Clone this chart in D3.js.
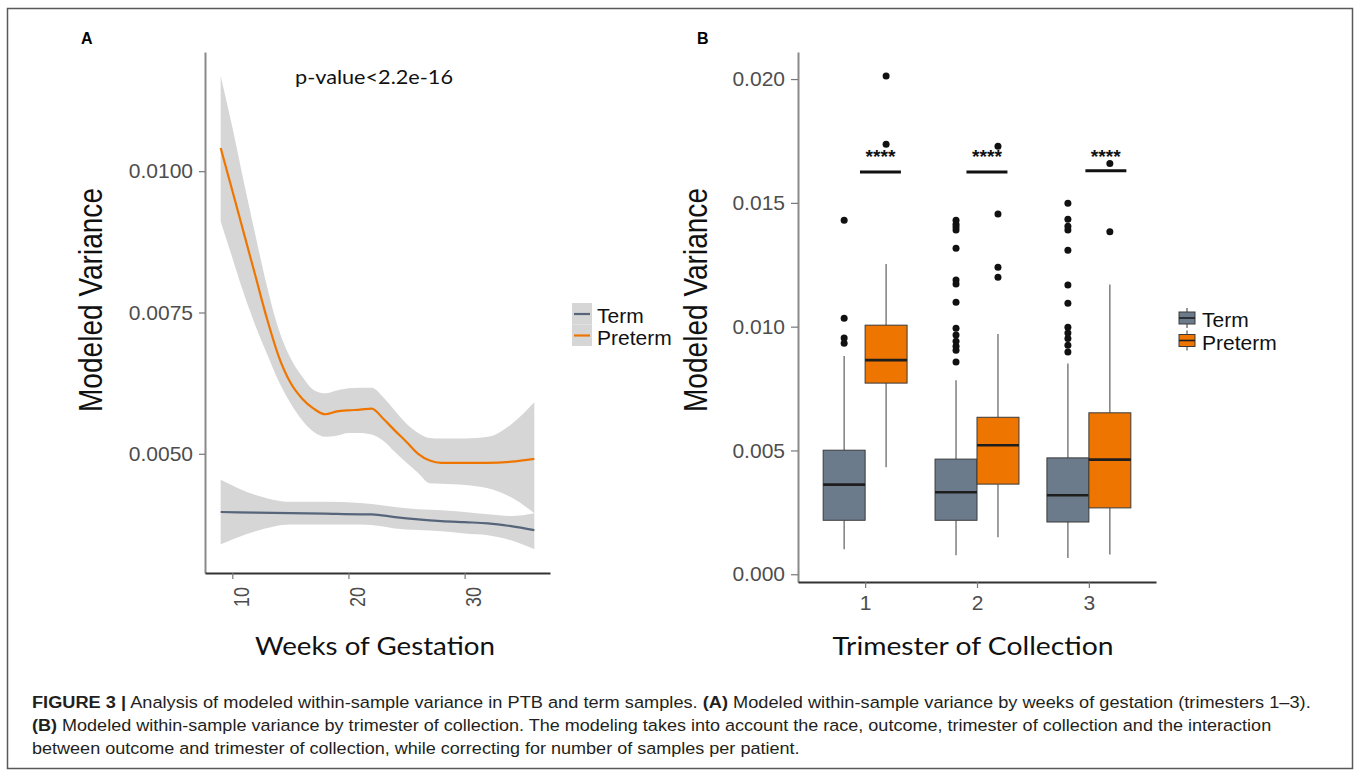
<!DOCTYPE html>
<html>
<head>
<meta charset="utf-8">
<script src="https://cdn.jsdelivr.net/npm/d3@7"></script>
<style>
  body { margin: 0; background: #fff; }
  svg { display: block; font-family: "Liberation Sans", Arial, sans-serif; }
</style>
</head>
<body>
<svg id="fig" width="1357" height="775"></svg>
<script>
'use strict';

// ---- Panel A: loess fit of modeled variance by week of gestation ----
var pretermWeeks = [9, 10, 11, 12, 13, 14, 15, 16, 17, 18, 19, 20, 21, 22, 23, 24, 25, 26, 27, 28, 30, 32, 34, 36];
var pretermFit   = [0.01041, 0.00966, 0.00890, 0.00814, 0.00738, 0.00672, 0.00626, 0.00598, 0.00580, 0.00570, 0.00575, 0.00577,
                    0.00578, 0.00580, 0.00562, 0.00541, 0.00521, 0.00500, 0.00488, 0.00484, 0.00484, 0.00484, 0.00486, 0.00491];
var pretermUpper = [0.01169, 0.01078, 0.00980, 0.00886, 0.00795, 0.00720, 0.00670, 0.00637, 0.00613, 0.00607, 0.00612, 0.00616,
                    0.00617, 0.00617, 0.00600, 0.00576, 0.00553, 0.00537, 0.00528, 0.00527, 0.00527, 0.00530, 0.00552, 0.00591];
var pretermLower = [0.00911, 0.00847, 0.00783, 0.00726, 0.00676, 0.00628, 0.00590, 0.00560, 0.00539, 0.00530, 0.00532, 0.00537,
                    0.00537, 0.00534, 0.00523, 0.00503, 0.00484, 0.00466, 0.00448, 0.00447, 0.00445, 0.00439, 0.00423, 0.00395];

var termWeeks = [9, 12, 15, 18, 21, 22, 24, 26, 28, 30, 32, 34, 36];
var termFit   = [0.00397, 0.00396, 0.00395, 0.00394, 0.00393, 0.00393, 0.00388, 0.00384, 0.00381, 0.00379, 0.00377, 0.00372, 0.00365];
var termUpper = [0.00454, 0.00427, 0.00415, 0.00415, 0.00413, 0.00411, 0.00406, 0.00402, 0.00400, 0.00397, 0.00393, 0.00390, 0.00395];
var termLower = [0.00340, 0.00363, 0.00375, 0.00375, 0.00375, 0.00374, 0.00368, 0.00365, 0.00363, 0.00359, 0.00356, 0.00347, 0.00331];

var weekTicks = [10, 20, 30];
var varianceTicksA = [0.0050, 0.0075, 0.0100];
var pValueLabel = 'p-value<2.2e-16';

// ---- Panel B: boxplots by trimester of collection ----
var trimesters = [1, 2, 3];
var outcomes = ['Term', 'Preterm'];

var termLow    = [0.00101, 0.00077, 0.00066];
var termQ1     = [0.00218, 0.00218, 0.00211];
var termMedian = [0.00362, 0.00331, 0.00319];
var termQ3     = [0.00501, 0.00465, 0.00470];
var termHigh   = [0.00881, 0.00784, 0.00851];
var termOutliers = [
  [0.01430, 0.01034, 0.00954, 0.00933],
  [0.01430, 0.01414, 0.01402, 0.01390, 0.01317, 0.01188, 0.01172, 0.01099, 0.00994, 0.00966, 0.00941, 0.00921, 0.00905, 0.00857],
  [0.01498, 0.01434, 0.01406, 0.01390, 0.01309, 0.01168, 0.01095, 0.00998, 0.00974, 0.00952, 0.00925, 0.00898]
];

var pretermLow    = [0.00432, 0.00149, 0.00080];
var pretermQ1     = [0.00772, 0.00364, 0.00268];
var pretermMedian = [0.00865, 0.00521, 0.00463];
var pretermQ3     = [0.01006, 0.00634, 0.00652];
var pretermHigh   = [0.01253, 0.00970, 0.01170];
var pretermOutliers = [
  [0.02012, 0.01737],
  [0.01729, 0.01455, 0.01240, 0.01200],
  [0.01659, 0.01383]
];

// significance marks drawn over each trimester (x in trimester units)
var sigX = [1.137, 2.089, 3.152];
var sigBarY = [0.01625, 0.01625, 0.01630];
var sigStarY = 0.01700;
var sigLabel = '****';

var varianceTicksB = [0, 0.005, 0.010, 0.015, 0.020];

var captionLines = [
  [['FIGURE 3 |', true], [' Analysis of modeled within-sample variance in PTB and term samples. ', false], ['(A)', true],
   [' Modeled within-sample variance by weeks of gestation (trimesters 1\u20133).', false]],
  [['(B)', true], [' Modeled within-sample variance by trimester of collection. The modeling takes into account the race, outcome, trimester of collection and the interaction', false]],
  [['between outcome and trimester of collection, while correcting for number of samples per patient.', false]]
];
var captionWidths = [1279, 1240, 768];

var termColor = '#6c7b8b';      // slategray4
var pretermColor = '#ee7600';   // darkorange2
var termLine = '#56657a';

var svg = d3.select('#fig');

function expand(ext, mult) {
  var pad = (ext[1] - ext[0]) * mult;
  return [ext[0] - pad, ext[1] + pad];
}

function rows(weeks, fit, lo, hi) {
  return weeks.map(function(w, i) { return { w: w, fit: fit[i], lo: lo[i], hi: hi[i] }; });
}

function styleAxis(g, domainColor, labelColor, size) {
  g.attr('font-family', null).attr('font-size', null);
  g.select('.domain').attr('stroke', domainColor).attr('stroke-width', 2);
  g.selectAll('.tick line').attr('stroke', '#777').attr('stroke-width', 1.2);
  g.selectAll('.tick text').attr('fill', labelColor).style('font-size', size + 'px');
}

// outer frame
svg.append('rect')
  .attr('x', 7.5).attr('y', 8.5).attr('width', 1345).attr('height', 760)
  .attr('fill', 'none').attr('stroke', '#5a5a5a').attr('stroke-width', 1.5);

// ================= Panel A =================
var A = { left: 205, right: 550, top: 52, bottom: 573 };

var xA = d3.scaleLinear()
  .domain(expand(d3.extent(pretermWeeks.concat(termWeeks)), 0.05))
  .range([A.left, A.right]);
var yA = d3.scaleLinear()
  .domain(expand([d3.min(termLower.concat(pretermLower)), d3.max(termUpper.concat(pretermUpper))], 0.05))
  .range([A.bottom, A.top]);

var smooths = [
  { name: 'Term', color: termLine, data: rows(termWeeks, termFit, termLower, termUpper) },
  { name: 'Preterm', color: pretermColor, data: rows(pretermWeeks, pretermFit, pretermLower, pretermUpper) }
];

var band = d3.area()
  .x(function(d) { return xA(d.w); })
  .y0(function(d) { return yA(d.lo); })
  .y1(function(d) { return yA(d.hi); })
  .curve(d3.curveMonotoneX);
var fitLine = d3.line()
  .x(function(d) { return xA(d.w); })
  .y(function(d) { return yA(d.fit); })
  .curve(d3.curveMonotoneX);

var gA = svg.append('g');
smooths.forEach(function(s) {
  gA.append('path').attr('d', band(s.data)).attr('fill', '#999').attr('fill-opacity', 0.4);
  gA.append('path').attr('d', fitLine(s.data)).attr('fill', 'none')
    .attr('stroke', s.color).attr('stroke-width', 2.2);
});

var gyA = svg.append('g').attr('transform', 'translate(' + A.left + ',0)')
  .call(d3.axisLeft(yA).tickValues(varianceTicksA).tickFormat(d3.format('.4f'))
    .tickSize(6).tickSizeOuter(0).tickPadding(6));
styleAxis(gyA, '#8a8a8a', '#4d4d4d', 21);

var gxA = svg.append('g').attr('transform', 'translate(0,' + A.bottom + ')')
  .call(d3.axisBottom(xA).tickValues(weekTicks).tickSize(6).tickSizeOuter(0));
styleAxis(gxA, '#333', '#4d4d4d', 22);
gxA.selectAll('.tick text')
  .attr('y', null).attr('dy', null)
  .attr('transform', 'translate(16,14) rotate(-90)')
  .attr('text-anchor', 'end')
  .attr('textLength', 20).attr('lengthAdjust', 'spacingAndGlyphs');

svg.append('text').attr('x', 81).attr('y', 44)
  .style('font-weight', 'bold').style('font-size', '16px').text('A');

svg.append('text').attr('x', 295).attr('y', 84)
  .style('font-family', 'Lato, sans-serif').style('font-size', '20px').attr('fill', '#111')
  .attr('textLength', 158).attr('lengthAdjust', 'spacingAndGlyphs')
  .text(pValueLabel);

svg.append('text').attr('transform', 'translate(102,300) rotate(-90)')
  .attr('text-anchor', 'middle').style('font-size', '33px').attr('fill', '#111')
  .attr('textLength', 224).attr('lengthAdjust', 'spacingAndGlyphs')
  .text('Modeled Variance');

svg.append('text').attr('x', 255).attr('y', 655)
  .style('font-family', 'Lato, sans-serif').style('font-size', '25px').attr('fill', '#111')
  .attr('textLength', 240).attr('lengthAdjust', 'spacingAndGlyphs')
  .text('Weeks of Gestation');

// legend A
var legA = svg.append('g').attr('transform', 'translate(572,303)');
smooths.forEach(function(s, i) {
  var row = legA.append('g').attr('transform', 'translate(0,' + (i * 21.5) + ')');
  row.append('rect').attr('width', 20).attr('height', 21.5).attr('fill', '#d6d6d6');
  row.append('line').attr('x1', 2).attr('x2', 18).attr('y1', 11).attr('y2', 11)
    .attr('stroke', s.color).attr('stroke-width', 2.2);
  row.append('text').attr('x', 25).attr('y', 20).style('font-size', '21px').attr('fill', '#111').text(s.name);
});

// ================= Panel B =================
var B = { left: 798, right: 1156, top: 52, bottom: 582 };

var xB = d3.scaleLinear()
  .domain([d3.min(trimesters) - 0.6, d3.max(trimesters) + 0.6])
  .range([B.left, B.right]);

var allB = termLow.concat(pretermLow, termHigh, pretermHigh, d3.merge(termOutliers), d3.merge(pretermOutliers));
var yB = d3.scaleLinear().domain(expand(d3.extent(allB), 0.05)).range([B.bottom, B.top]);

var boxWidth = 0.375;
var boxes = [];
trimesters.forEach(function(t, i) {
  boxes.push({ t: t, pos: t - boxWidth / 2, fill: termColor, low: termLow[i], q1: termQ1[i], med: termMedian[i],
    q3: termQ3[i], high: termHigh[i], out: termOutliers[i] });
  boxes.push({ t: t, pos: t + boxWidth / 2, fill: pretermColor, low: pretermLow[i], q1: pretermQ1[i], med: pretermMedian[i],
    q3: pretermQ3[i], high: pretermHigh[i], out: pretermOutliers[i] });
});

var gB = svg.append('g');
var bw = xB(boxWidth) - xB(0);
var bx = gB.selectAll('g.box').data(boxes).enter().append('g').attr('class', 'box');

bx.append('line')
  .attr('x1', function(d) { return xB(d.pos); }).attr('x2', function(d) { return xB(d.pos); })
  .attr('y1', function(d) { return yB(d.high); }).attr('y2', function(d) { return yB(d.q3); })
  .attr('stroke', '#6b6b6b').attr('stroke-width', 1.3);
bx.append('line')
  .attr('x1', function(d) { return xB(d.pos); }).attr('x2', function(d) { return xB(d.pos); })
  .attr('y1', function(d) { return yB(d.q1); }).attr('y2', function(d) { return yB(d.low); })
  .attr('stroke', '#6b6b6b').attr('stroke-width', 1.3);
bx.append('rect')
  .attr('x', function(d) { return xB(d.pos) - bw / 2; })
  .attr('y', function(d) { return yB(d.q3); })
  .attr('width', bw)
  .attr('height', function(d) { return yB(d.q1) - yB(d.q3); })
  .attr('fill', function(d) { return d.fill; })
  .attr('stroke', '#3a3a3a').attr('stroke-width', 1);
bx.append('line')
  .attr('x1', function(d) { return xB(d.pos) - bw / 2; }).attr('x2', function(d) { return xB(d.pos) + bw / 2; })
  .attr('y1', function(d) { return yB(d.med); }).attr('y2', function(d) { return yB(d.med); })
  .attr('stroke', '#1e1e1e').attr('stroke-width', 2.6);
bx.selectAll('circle').data(function(d) { return d.out.map(function(v) { return { pos: d.pos, v: v }; }); })
  .enter().append('circle')
  .attr('cx', function(d) { return xB(d.pos); })
  .attr('cy', function(d) { return yB(d.v); })
  .attr('r', 3.5).attr('fill', '#111');

// significance bars and stars
var sig = gB.selectAll('g.sig').data(sigX).enter().append('g').attr('class', 'sig');
sig.append('line')
  .attr('x1', function(d) { return xB(d - 0.183); }).attr('x2', function(d) { return xB(d + 0.183); })
  .attr('y1', function(d, i) { return yB(sigBarY[i]); }).attr('y2', function(d, i) { return yB(sigBarY[i]); })
  .attr('stroke', '#111').attr('stroke-width', 3);
sig.append('text')
  .attr('x', function(d) { return xB(d); })
  .attr('y', yB(sigStarY) + 10)
  .attr('text-anchor', 'middle').style('font-size', '18px').style('font-weight', 'bold').attr('fill', '#111')
  .attr('textLength', 30).attr('lengthAdjust', 'spacingAndGlyphs')
  .text(sigLabel);

var gyB = svg.append('g').attr('transform', 'translate(' + B.left + ',0)')
  .call(d3.axisLeft(yB).tickValues(varianceTicksB).tickFormat(d3.format('.3f'))
    .tickSize(7).tickSizeOuter(0).tickPadding(6));
styleAxis(gyB, '#8a8a8a', '#4d4d4d', 21);

var gxB = svg.append('g').attr('transform', 'translate(0,' + B.bottom + ')')
  .call(d3.axisBottom(xB).tickValues(trimesters).tickFormat(d3.format('d'))
    .tickSize(6).tickSizeOuter(0).tickPadding(7));
styleAxis(gxB, '#333', '#4d4d4d', 21);

svg.append('text').attr('x', 697).attr('y', 44)
  .style('font-weight', 'bold').style('font-size', '16px').text('B');

svg.append('text').attr('transform', 'translate(707,300) rotate(-90)')
  .attr('text-anchor', 'middle').style('font-size', '33px').attr('fill', '#111')
  .attr('textLength', 224).attr('lengthAdjust', 'spacingAndGlyphs')
  .text('Modeled Variance');

svg.append('text').attr('x', 832.5).attr('y', 655)
  .style('font-family', 'Lato, sans-serif').style('font-size', '25px').attr('fill', '#111')
  .attr('textLength', 281).attr('lengthAdjust', 'spacingAndGlyphs')
  .text('Trimester of Collection');

// legend B: small boxplot glyphs
var legB = svg.append('g').attr('transform', 'translate(1187,318)');
outcomes.forEach(function(name, i) {
  var row = legB.append('g').attr('transform', 'translate(0,' + (i * 22.5) + ')');
  row.append('line').attr('y1', -10).attr('y2', 10).attr('stroke', '#555').attr('stroke-width', 1.2);
  row.append('rect').attr('x', -8).attr('y', -6).attr('width', 16).attr('height', 12)
    .attr('fill', i === 0 ? termColor : pretermColor).attr('stroke', '#3a3a3a').attr('stroke-width', 1);
  row.append('line').attr('x1', -8).attr('x2', 8).attr('stroke', '#1e1e1e').attr('stroke-width', 1.6);
  row.append('text').attr('x', 15).attr('y', 9).style('font-size', '21px').attr('fill', '#111').text(name);
});

// ================= Caption =================
captionLines.forEach(function(parts, i) {
  var g = svg.append('g');
  var t = g.append('text').attr('x', 0).attr('y', 0).style('font-size', '17px').attr('fill', '#231f20');
  parts.forEach(function(p) {
    t.append('tspan').style('font-weight', p[1] ? 'bold' : 'normal').text(p[0]);
  });
  var natural = t.node().getComputedTextLength();
  g.attr('transform', 'translate(32,' + (708 + i * 23) + ') scale(' + (captionWidths[i] / natural) + ',1)');
});
</script>
</body>
</html>
